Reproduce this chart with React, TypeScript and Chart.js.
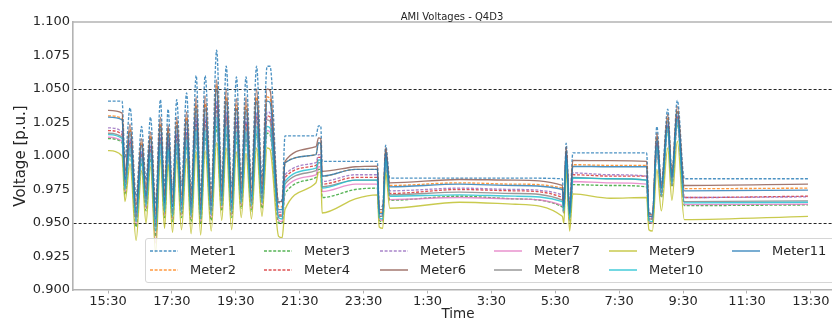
import React, { useEffect, useRef } from "react";
import { Chart, registerables } from "chart.js";

Chart.register(...registerables);

// time in hours after 15:30
const timeHours = [
  0.0, 0.44, 0.53, 0.69, 0.88, 1.05, 1.19, 1.33, 1.49, 1.64,
  1.77, 1.88, 2.02, 2.15, 2.3, 2.46, 2.6, 2.76, 2.9, 3.04,
  3.23, 3.4, 3.56, 3.7, 3.87, 4.02, 4.17, 4.32, 4.49, 4.65,
  4.82, 4.98, 5.07, 5.34, 5.45, 5.54, 6.51, 6.59, 6.66, 6.7,
  7.74, 8.43, 8.49, 8.6, 8.69, 8.82, 11.0, 12.75, 14.22, 14.27,
  14.34, 14.45, 14.55, 15.72, 16.86, 16.93, 17.04, 17.18, 17.32, 17.52,
  17.65, 17.82, 18.04, 21.91,
];

const meter1 = [
  1.041, 1.041, 0.998, 1.036, 0.970, 1.022, 0.982, 1.029, 0.965, 1.042,
  0.977, 1.035, 0.974, 1.042, 0.978, 1.047, 0.974, 1.060, 0.972, 1.060,
  0.975, 1.079, 0.982, 1.067, 0.977, 1.059, 0.984, 1.059, 0.982, 1.067,
  0.984, 1.067, 1.067, 0.965, 0.968, 1.015, 1.015, 1.0225, 1.0225, 0.996,
  0.996, 0.996, 0.962, 0.963, 1.008, 0.9835, 0.9835, 0.9835, 0.983, 0.965,
  1.0095, 0.962, 1.0023, 1.0023, 1.0023, 0.958, 0.957, 1.022, 0.980, 1.035,
  0.988, 1.0415, 0.983, 0.983,
];
const meter2 = [
  1.030, 1.028, 0.985, 1.020, 0.961, 1.010, 0.973, 1.015, 0.956, 1.024,
  0.968, 1.019, 0.965, 1.025, 0.968, 1.029, 0.965, 1.038, 0.963, 1.039,
  0.966, 1.053, 0.973, 1.044, 0.968, 1.038, 0.975, 1.038, 0.973, 1.044,
  0.975, 1.044, 1.043, 0.962, 0.962, 0.995, 1.001, 1.010, 1.009, 0.985,
  0.990, 0.990, 0.958, 0.958, 1.003, 0.978, 0.980, 0.979, 0.976, 0.962,
  1.004, 0.958, 0.9935, 0.993, 0.993, 0.955, 0.955, 1.014, 0.976, 1.028,
  0.984, 1.034, 0.9756, 0.976,
];
const meter3 = [
  1.013, 1.010, 0.971, 1.002, 0.947, 0.995, 0.959, 0.998, 0.940, 1.004,
  0.954, 1.001, 0.951, 1.005, 0.954, 1.007, 0.951, 1.013, 0.949, 1.014,
  0.952, 1.022, 0.959, 1.017, 0.954, 1.013, 0.961, 1.013, 0.959, 1.017,
  0.961, 1.017, 1.016, 0.950, 0.950, 0.972, 0.984, 0.990, 0.990, 0.969,
  0.975, 0.976, 0.952, 0.951, 0.996, 0.967, 0.970, 0.968, 0.962, 0.957,
  0.997, 0.951, 0.9786, 0.978, 0.977, 0.950, 0.950, 1.004, 0.969, 1.019,
  0.977, 1.024, 0.963, 0.9635,
];
const meter4 = [
  1.019, 1.016, 0.978, 1.011, 0.954, 1.002, 0.966, 1.007, 0.948, 1.014,
  0.961, 1.010, 0.958, 1.015, 0.961, 1.018, 0.958, 1.026, 0.956, 1.026,
  0.959, 1.038, 0.966, 1.030, 0.961, 1.025, 0.968, 1.025, 0.966, 1.030,
  0.968, 1.030, 1.029, 0.956, 0.956, 0.984, 0.993, 0.999, 0.999, 0.979,
  0.984, 0.984, 0.955, 0.955, 1.000, 0.972, 0.975, 0.974, 0.969, 0.960,
  1.001, 0.955, 0.986, 0.985, 0.985, 0.953, 0.953, 1.009, 0.973, 1.023,
  0.981, 1.029, 0.969, 0.970,
];
const meter5 = [
  1.021, 1.018, 0.980, 1.013, 0.956, 1.004, 0.968, 1.008, 0.950, 1.016,
  0.963, 1.012, 0.960, 1.017, 0.963, 1.020, 0.960, 1.029, 0.958, 1.029,
  0.961, 1.041, 0.968, 1.033, 0.963, 1.028, 0.970, 1.028, 0.968, 1.033,
  0.970, 1.033, 1.032, 0.958, 0.958, 0.986, 0.995, 1.001, 1.001, 0.981,
  0.986, 0.986, 0.956, 0.956, 1.001, 0.974, 0.976, 0.975, 0.971, 0.961,
  1.002, 0.956, 0.9874, 0.986, 0.985, 0.954, 0.954, 1.010, 0.974, 1.024,
  0.982, 1.030, 0.969, 0.9695,
];
const meter6 = [
  1.034, 1.032, 0.988, 1.024, 0.964, 1.013, 0.976, 1.018, 0.959, 1.029,
  0.971, 1.023, 0.968, 1.029, 0.971, 1.033, 0.968, 1.044, 0.966, 1.045,
  0.969, 1.057, 0.976, 1.050, 0.971, 1.043, 0.978, 1.044, 0.976, 1.050,
  0.978, 1.050, 1.049, 0.966, 0.966, 0.996, 1.007, 1.0135, 1.013, 0.9885,
  0.992, 0.9925, 0.960, 0.960, 1.006, 0.980, 0.9825, 0.982, 0.978, 0.964,
  1.007, 0.960, 0.9967, 0.9965, 0.996, 0.957, 0.956, 1.017, 0.978, 1.031,
  0.986, 1.037, 0.978, 0.979,
];
const meter7 = [
  1.014, 1.011, 0.973, 1.004, 0.949, 0.997, 0.961, 1.000, 0.935, 1.006,
  0.956, 1.003, 0.953, 1.007, 0.956, 1.009, 0.953, 1.016, 0.951, 1.016,
  0.954, 1.026, 0.961, 1.019, 0.956, 1.015, 0.963, 1.015, 0.961, 1.019,
  0.963, 1.019, 1.018, 0.952, 0.951, 0.976, 0.986, 0.992, 0.992, 0.9735,
  0.979, 0.979, 0.953, 0.952, 0.997, 0.9675, 0.969, 0.968, 0.963, 0.958,
  0.998, 0.952, 0.981, 0.980, 0.979, 0.951, 0.950, 1.005, 0.970, 1.020,
  0.978, 1.025, 0.9637, 0.964,
];
const meter8 = [
  1.017, 1.014, 0.977, 1.009, 0.953, 1.001, 0.965, 1.005, 0.947, 1.012,
  0.960, 1.008, 0.957, 1.012, 0.960, 1.015, 0.957, 1.023, 0.955, 1.023,
  0.958, 1.034, 0.965, 1.027, 0.960, 1.023, 0.967, 1.022, 0.965, 1.027,
  0.967, 1.027, 1.026, 0.955, 0.955, 0.979, 0.989, 0.995, 0.995, 0.977,
  0.982, 0.982, 0.955, 0.955, 0.999, 0.971, 0.973, 0.972, 0.967, 0.960,
  1.000, 0.955, 0.984, 0.983, 0.982, 0.953, 0.953, 1.008, 0.972, 1.022,
  0.980, 1.028, 0.966, 0.9665,
];
const meter9 = [
  1.004, 1.000, 0.966, 0.994, 0.937, 0.989, 0.950, 0.992, 0.928, 0.997,
  0.946, 0.994, 0.943, 0.997, 0.945, 0.998, 0.942, 1.003, 0.941, 1.004,
  0.944, 1.010, 0.952, 1.006, 0.945, 1.003, 0.954, 1.002, 0.953, 1.006,
  0.955, 1.006, 1.005, 0.940, 0.939, 0.960, 0.980, 0.988, 0.988, 0.9575,
  0.968, 0.971, 0.947, 0.946, 0.988, 0.961, 0.9655, 0.964, 0.955, 0.950,
  0.990, 0.944, 0.9717, 0.9685, 0.969, 0.945, 0.944, 0.990, 0.959, 1.006,
  0.967, 1.011, 0.9525, 0.955,
];
const meter10 = [
  1.016, 1.013, 0.975, 1.006, 0.951, 0.998, 0.963, 1.002, 0.944, 1.009,
  0.958, 1.005, 0.955, 1.009, 0.958, 1.012, 0.955, 1.019, 0.953, 1.019,
  0.956, 1.029, 0.963, 1.022, 0.958, 1.018, 0.965, 1.018, 0.963, 1.022,
  0.965, 1.022, 1.021, 0.954, 0.953, 0.981, 0.991, 0.997, 0.997, 0.976,
  0.982, 0.982, 0.954, 0.953, 0.998, 0.970, 0.971, 0.970, 0.966, 0.959,
  0.999, 0.953, 0.9836, 0.983, 0.982, 0.952, 0.951, 1.007, 0.971, 1.021,
  0.979, 1.027, 0.965, 0.9655,
];
const meter11 = [
  1.029, 1.027, 0.982, 1.018, 0.958, 1.008, 0.970, 1.013, 0.953, 1.022,
  0.965, 1.017, 0.962, 1.023, 0.965, 1.026, 0.962, 1.036, 0.960, 1.036,
  0.963, 1.050, 0.970, 1.041, 0.965, 1.035, 0.972, 1.035, 0.970, 1.041,
  0.972, 1.041, 1.040, 0.960, 0.960, 0.995, 1.001, 1.010, 1.009, 0.985,
  0.990, 0.990, 0.957, 0.957, 1.003, 0.977, 0.979, 0.978, 0.975, 0.962,
  1.004, 0.957, 0.9923, 0.992, 0.992, 0.955, 0.955, 1.013, 0.976, 1.027,
  0.984, 1.033, 0.974, 0.9745,
];

const meterNames = [
  "Meter1", "Meter2", "Meter3", "Meter4", "Meter5", "Meter6",
  "Meter7", "Meter8", "Meter9", "Meter10", "Meter11",
];
const meterColors = [
  "#1f77b4", "#ff7f0e", "#2ca02c", "#d62728", "#9467bd", "#8c564b",
  "#e377c2", "#7f7f7f", "#bcbd22", "#17becf", "#1f77b4",
];
const meterDashed = [true, true, true, true, true, false, false, false, false, false, false];

const xTickHours = [0, 2, 4, 6, 8, 10, 12, 14, 16, 18, 20, 22];
const xTickLabels = [
  "15:30", "17:30", "19:30", "21:30", "23:30", "1:30",
  "3:30", "5:30", "7:30", "9:30", "11:30", "13:30",
];
const yTickValues = [0.9, 0.925, 0.95, 0.975, 1.0, 1.025, 1.05, 1.075, 1.1];
const limitLines = [0.95, 1.05];

const X_MIN = -1.096;
const X_MAX = 23.006;
const FONT = "'DejaVu Sans', sans-serif";
const TEXT = "#262626";
const SPINE = "#b3b3b3";

const allSeries = [meter1, meter2, meter3, meter4, meter5, meter6, meter7, meter8, meter9, meter10, meter11];

function rgba(hex: string, a: number) {
  const n = parseInt(hex.slice(1), 16);
  return `rgba(${(n >> 16) & 255},${(n >> 8) & 255},${n & 255},${a})`;
}

const LINE_ALPHA = 0.8;

const legendTextX = [190, 304, 420, 534, 649, 772];
const legendRowY = [250.5, 270];

const topSpine = {
  id: "topSpine",
  afterDraw(chart: any) {
    const { ctx, chartArea } = chart;
    ctx.save();
    ctx.strokeStyle = SPINE;
    ctx.lineWidth = 1.6;
    ctx.beginPath();
    ctx.moveTo(chartArea.left - 0.8, chartArea.top);
    ctx.lineTo(chartArea.right, chartArea.top);
    ctx.stroke();
    ctx.restore();
  },
};

export default function App() {
  const canvasRef = useRef<HTMLCanvasElement | null>(null);

  useEffect(() => {
    if (!canvasRef.current) return;
    Chart.defaults.font.family = FONT;
    const datasets = allSeries.map((vals, i) => ({
      label: meterNames[i],
      data: vals.map((v, j) => ({ x: timeHours[j], y: v })),
      borderColor: rgba(meterColors[i], LINE_ALPHA),
      borderWidth: 1.35,
      borderDash: meterDashed[i] ? [3, 1.6] : [],
      pointRadius: 0,
      fill: false,
      cubicInterpolationMode: "monotone" as const,
      order: 10 - i,
    }));
    const chart = new Chart(canvasRef.current, {
      type: "line",
      data: { datasets },
      options: {
        animation: false,
        responsive: false,
        layout: { padding: { top: 22, right: 57, left: 0, bottom: 0 } },
        plugins: {
          legend: { display: false },
          title: { display: false },
          tooltip: { enabled: false },
        },
        scales: {
          x: {
            type: "linear",
            min: X_MIN,
            max: X_MAX,
            afterBuildTicks: (s: any) => {
              s.ticks = xTickHours.map((v) => ({ value: v }));
            },
            afterFit: (s: any) => {
              s.height = 31;
            },
            ticks: {
              autoSkip: false,
              maxRotation: 0,
              padding: 0,
              color: TEXT,
              font: { size: 13, family: FONT },
              callback: (_v: any, i: number) => xTickLabels[i],
            },
            grid: {
              drawOnChartArea: false,
              drawTicks: true,
              tickLength: 3.5,
              tickColor: SPINE,
              tickWidth: 1,
            },
            border: { color: SPINE, width: 1.6 },
            title: {
              display: true,
              text: "Time",
              color: TEXT,
              font: { size: 13.5, family: FONT, lineHeight: 1 },
              padding: 0,
            },
          },
          y: {
            type: "linear",
            min: 0.9,
            max: 1.1,
            afterBuildTicks: (s: any) => {
              s.ticks = yTickValues.map((v) => ({ value: v }));
            },
            afterFit: (s: any) => {
              s.width = 73;
            },
            ticks: {
              padding: 3,
              color: TEXT,
              font: { size: 13, family: FONT },
              callback: (v: any) => Number(v).toFixed(3),
            },
            grid: {
              drawTicks: false,
              lineWidth: 1,
              color: (ctx: any) => {
                const v = ctx.tick ? ctx.tick.value : NaN;
                return limitLines.some((l) => Math.abs(v - l) < 1e-6)
                  ? "rgba(0,0,0,0.85)"
                  : "rgba(0,0,0,0)";
              },
            },
            border: { color: SPINE, width: 1.6, dash: [3, 2] },
            title: {
              display: true,
              text: "Voltage [p.u.]",
              color: TEXT,
              font: { size: 15, family: FONT },
              padding: { top: 12, bottom: 0 },
            },
          },
        },
      } as any,
      plugins: [topSpine],
    });
    return () => chart.destroy();
  }, []);

  return (
    <div
      style={{
        position: "fixed",
        left: 0,
        top: 0,
        width: 832,
        height: 321,
        overflow: "hidden",
        background: "#fff",
        fontFamily: FONT,
      }}
    >
      <canvas
        ref={canvasRef}
        width={900}
        height={321}
        style={{ position: "absolute", left: 0, top: 0, width: 900, height: 321 }}
      />
      <div
        style={{
          position: "absolute",
          left: 352,
          width: 200,
          top: 10.5,
          lineHeight: "12px",
          fontSize: 10,
          textAlign: "center",
          color: TEXT,
          whiteSpace: "nowrap",
        }}
      >
        AMI Voltages - Q4D3
      </div>
      <div
        style={{
          position: "absolute",
          left: 145,
          top: 238,
          width: 690,
          height: 45,
          boxSizing: "border-box",
          background: "rgba(255,255,255,0.8)",
          border: "1px solid #d6d6d6",
          borderRadius: 3,
        }}
      />
      {meterNames.map((name, i) => {
        const col = Math.floor(i / 2);
        const row = i % 2;
        const tx = legendTextX[col];
        const cy = legendRowY[row];
        return (
          <React.Fragment key={name}>
            <svg
              width={28}
              height={4}
              style={{ position: "absolute", left: tx - 40, top: cy - 2 }}
            >
              <line
                x1={0}
                y1={2}
                x2={28}
                y2={2}
                stroke={rgba(meterColors[i], LINE_ALPHA)}
                strokeWidth={1.5}
                strokeDasharray={meterDashed[i] ? "3 1.6" : undefined}
              />
            </svg>
            <span
              style={{
                position: "absolute",
                left: tx,
                top: cy - 8,
                lineHeight: "16px",
                fontSize: 13,
                color: TEXT,
                whiteSpace: "nowrap",
              }}
            >
              {name}
            </span>
          </React.Fragment>
        );
      })}
    </div>
  );
}
